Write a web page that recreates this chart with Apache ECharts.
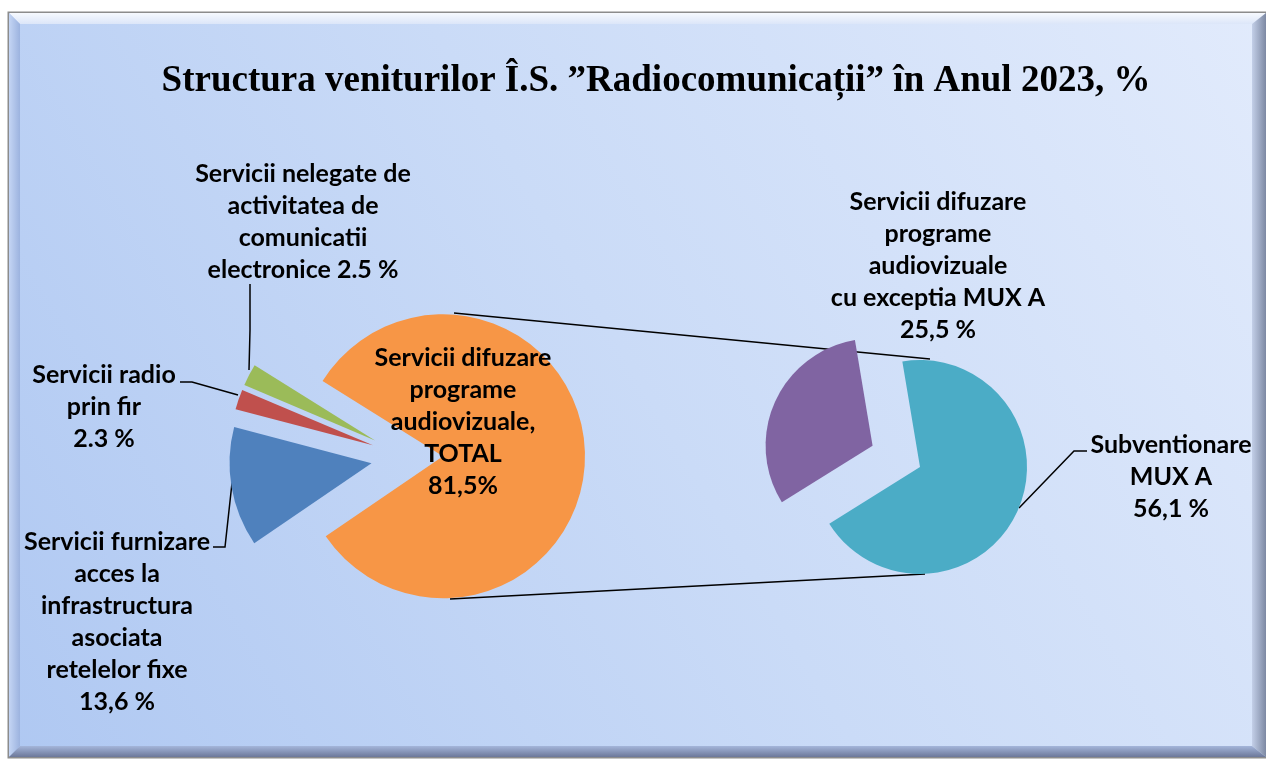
<!DOCTYPE html>
<html lang="ro">
<head>
    <meta charset="UTF-8">
    <title>Structura veniturilor Î.S. Radiocomunicații 2023</title>
    <script src="https://cdn.jsdelivr.net/npm/echarts@6/dist/echarts.min.js"></script>
    <style>
        html, body { margin: 0; padding: 0; background: #fff; }
        #chart { width: 1266px; height: 762px; }
    </style>
</head>
<body>
<div id="chart"></div>
<script>
    // date - pie principal
    var mainNames = [
        'Servicii difuzare programe audiovizuale, TOTAL',
        'Servicii furnizare acces la infrastructura asociata retelelor fixe',
        'Servicii radio prin fir',
        'Servicii nelegate de activitatea de comunicatii electronice'
    ];
    var mainValues = [81.5, 13.6, 2.3, 2.5];
    var mainLabels = [
        'Servicii difuzare\nprograme\naudiovizuale,\nTOTAL\n81,5%',
        'Servicii furnizare\nacces la\ninfrastructura\nasociata\nretelelor fixe\n13,6 %',
        'Servicii radio\nprin fir\n2.3 %',
        'Servicii nelegate de\nactivitatea de\ncomunicatii\nelectronice 2.5 %'
    ];
    var mainColors = ['#F79646', '#4F81BD', '#C0504D', '#9BBB59'];

    // date - pie secundar (detaliere difuzare)
    var subNames = ['Servicii difuzare programe audiovizuale cu exceptia MUX A', 'Subventionare MUX A'];
    var subValues = [25.5, 56.1];
    var subLabels = [
        'Servicii difuzare\nprograme\naudiovizuale\ncu exceptia MUX A\n25,5 %',
        'Subventionare\nMUX A\n56,1 %'
    ];
    var subColors = ['#8064A2', '#4BACC6'];

    var titleText = 'Structura veniturilor Î.S. ”Radiocomunicații” în Anul 2023, %';

    // layout
    var C1 = [407, 457], R1 = 142, START1 = 148;
    var C2 = [920, 467], R2 = 107, START2 = 212;
    var mainExplode = [36, 36, 36, 36];
    var subExplode = [52, 0];
    var mainLabelPos = [
        { x: 463, y: 422, line: null },
        { x: 117, y: 622, line: [[232, 483], [225, 547], [213, 547]] },
        { x: 104, y: 407, line: [[238, 395], [192, 382], [180, 382]] },
        { x: 303, y: 222, line: [[249, 370], [250, 330], [250, 284]] }
    ];
    var subLabelPos = [
        { x: 938, y: 266, line: null },
        { x: 1171, y: 477, line: [[1019, 508], [1074, 451], [1087, 451]] }
    ];

    var labelFont = {
        fontFamily: 'Lato',
        fontWeight: 'bold',
        fontSize: 25,
        lineHeight: 32,
        color: '#000'
    };

    // o serie pe felie: felia vizibila, restul transparente, centrul deplasat pe bisectoare
    function explodedSeries(names, values, labels, colors, center, radius, startAngle, explode, labelPos) {
        var total = values.reduce(function (a, b) { return a + b; }, 0);
        var cum = 0;
        return values.map(function (v, k) {
            var mid = (startAngle - 360 * (cum + v / 2) / total) * Math.PI / 180;
            cum += v;
            var c = [center[0] + explode[k] * Math.cos(mid), center[1] - explode[k] * Math.sin(mid)];
            var pos = labelPos[k];
            return {
                type: 'pie',
                name: names[k],
                center: c,
                radius: radius,
                startAngle: startAngle,
                clockwise: true,
                silent: true,
                avoidLabelOverlap: false,
                emphasis: { disabled: true },
                labelLayout: function (p) {
                    if (p.dataIndex !== k) return {};
                    var res = { x: pos.x, y: pos.y, align: 'center', verticalAlign: 'middle' };
                    if (pos.line) res.labelLinePoints = pos.line;
                    return res;
                },
                data: names.map(function (n, i) {
                    var visible = i === k;
                    return {
                        name: n,
                        value: values[i],
                        itemStyle: { color: visible ? colors[i] : 'rgba(0,0,0,0)' },
                        label: Object.assign({ show: visible, position: 'outside', formatter: labels[i] }, labelFont),
                        labelLine: {
                            show: visible && !!pos.line,
                            smooth: false,
                            lineStyle: { color: '#000', width: 1.5 }
                        }
                    };
                })
            };
        });
    }

    var chart = echarts.init(document.getElementById('chart'));

    var orangeTop = [454, C1[1] - R1 - 2];
    var orangeBot = [450, C1[1] + R1];
    var tealTop = [930, C2[1] - R2 - 1];
    var tealBot = [925, C2[1] + R2];

    var option = {
        animation: false,
        title: {
            text: titleText,
            left: 651,
            top: 58,
            textAlign: 'center',
            textStyle: {
                fontFamily: 'Liberation Serif',
                fontWeight: 'bold',
                fontSize: 37,
                color: '#000'
            }
        },
        graphic: [
            {
                type: 'rect', z: -10, silent: true,
                shape: { x: 8.5, y: 12.5, width: 1270, height: 745 },
                style: {
                    fill: new echarts.graphic.LinearGradient(0, 1, 1, 0, [
                        { offset: 0, color: '#afc8f2' },
                        { offset: 0.5, color: '#cadbf7' },
                        { offset: 1, color: '#e2ebfc' }
                    ]),
                    stroke: '#8c8c8c', lineWidth: 2
                }
            },
            {
                type: 'polygon', z: -9, silent: true,
                shape: { points: [[9, 13], [1266, 13], [1252, 24], [20, 24]] },
                style: { fill: new echarts.graphic.LinearGradient(0, 0, 0, 1, [
                    { offset: 0, color: '#f6f9fe' }, { offset: 1, color: '#dce6f9' }]) }
            },
            {
                type: 'polygon', z: -9, silent: true,
                shape: { points: [[9, 13], [20, 24], [20, 746], [9, 757]] },
                style: { fill: new echarts.graphic.LinearGradient(0, 0, 1, 0, [
                    { offset: 0, color: '#c4d5f4' }, { offset: 1, color: '#9cb3df' }]) }
            },
            {
                type: 'polygon', z: -9, silent: true,
                shape: { points: [[1266, 13], [1266, 757], [1252, 746], [1252, 24]] },
                style: { fill: new echarts.graphic.LinearGradient(0, 0, 1, 0, [
                    { offset: 0, color: '#c3cfe8' }, { offset: 1, color: '#7d89a3' }]) }
            },
            {
                type: 'polygon', z: -9, silent: true,
                shape: { points: [[9, 757], [20, 746], [1252, 746], [1266, 757]] },
                style: { fill: new echarts.graphic.LinearGradient(0, 0, 0, 1, [
                    { offset: 0, color: '#a4b5da' }, { offset: 1, color: '#6c7899' }]) }
            },
            // linii de legatura intre cele doua diagrame (sub felii)
            {
                type: 'line', z: 1, silent: true,
                shape: { x1: orangeTop[0], y1: orangeTop[1], x2: tealTop[0], y2: tealTop[1] },
                style: { stroke: '#000', lineWidth: 1.5 }
            },
            {
                type: 'line', z: 1, silent: true,
                shape: { x1: orangeBot[0], y1: orangeBot[1], x2: tealBot[0], y2: tealBot[1] },
                style: { stroke: '#000', lineWidth: 1.5 }
            }
        ],
        series: explodedSeries(mainNames, mainValues, mainLabels, mainColors, C1, R1, START1, mainExplode, mainLabelPos)
            .concat(explodedSeries(subNames, subValues, subLabels, subColors, C2, R2, START2, subExplode, subLabelPos))
    };

    chart.setOption(option);
</script>
</body>
</html>
